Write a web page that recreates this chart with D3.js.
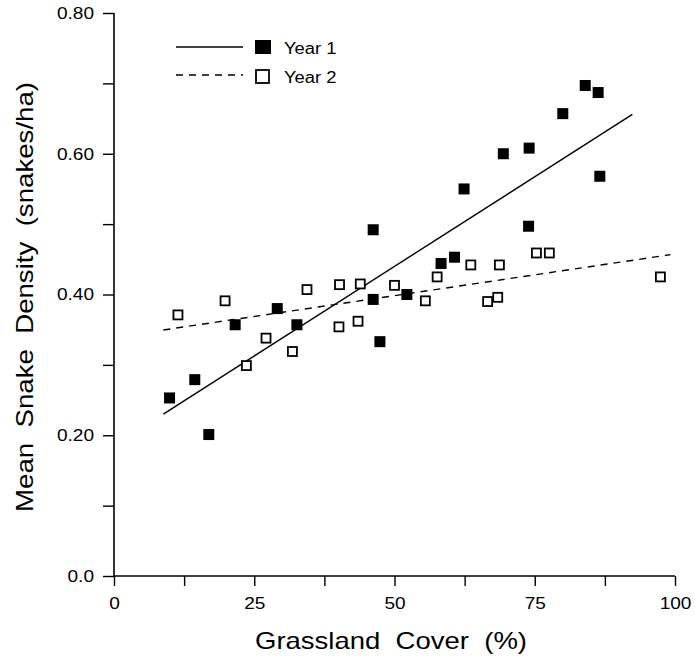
<!DOCTYPE html>
<html><head><meta charset="utf-8">
<script src="https://cdn.jsdelivr.net/npm/d3@7"></script>
<style>body{margin:0;background:#fff}svg text{font-family:"Liberation Sans",Arial,sans-serif;fill:#000}</style>
</head><body><svg id="c" width="695" height="656"></svg>
<script>
// Data
const year1X = [9.9,14.4,16.9,21.6,29.1,32.6,46.2,46.2,47.4,52.2,58.3,60.7,62.4,69.4,73.9,74.0,80.0,84.0,86.3,86.6];
const year1Y = [0.253,0.279,0.201,0.357,0.380,0.357,0.492,0.393,0.333,0.400,0.444,0.453,0.550,0.600,0.497,0.608,0.657,0.697,0.687,0.568];
const year2X = [11.4,19.8,23.6,27.1,31.8,34.4,40.1,40.2,43.5,43.9,50.0,55.5,57.6,63.6,66.6,68.4,68.7,75.3,77.6,97.4];
const year2Y = [0.371,0.391,0.299,0.338,0.319,0.407,0.354,0.414,0.362,0.415,0.413,0.391,0.425,0.442,0.390,0.396,0.442,0.459,0.459,0.425];
const fit1X = [8.8, 92.4], fit1Y = [0.230, 0.656];
const fit2X = [8.8, 99.2], fit2Y = [0.3496, 0.4566];
const xTicks = [0,12.5,25,37.5,50,62.5,75,87.5,100];
const xTickLabels = {0:"0",25:"25",50:"50",75:"75",100:"100"};
const yTicks = [0,0.1,0.2,0.3,0.4,0.5,0.6,0.7,0.8];
const yTickLabels = {0:"0.0",0.2:"0.20",0.4:"0.40",0.6:"0.60",0.8:"0.80"};
const seriesNames = ["Year 1","Year 2"];
const xTitle = "Grassland  Cover  (%)";
const yTitle = "Mean  Snake  Density  (snakes/ha)";

const svg = d3.select("#c");
const L=114, T=13, W=561, H=563;
const x = d3.scaleLinear().domain([0,100]).range([L,L+W]);
const y = d3.scaleLinear().domain([0,0.8]).range([T+H,T]);

function stretch(sel, f){
  sel.each(function(){const w=this.getComputedTextLength(); if(w>0){d3.select(this).attr("textLength",w*f).attr("lengthAdjust","spacingAndGlyphs");}});
}

const xAxis = d3.axisBottom(x).tickValues(xTicks).tickSize(10).tickPadding(11)
  .tickFormat(d=>xTickLabels[d]!==undefined?xTickLabels[d]:"");
const gx = svg.append("g").attr("transform",`translate(0,${T+H})`).call(xAxis);
const yAxis = d3.axisLeft(y).tickValues(yTicks).tickSize(11).tickPadding(9)
  .tickFormat(d=>{const k=Math.round(d*10)/10;return yTickLabels[k]!==undefined?yTickLabels[k]:"";});
const gy = svg.append("g").attr("transform",`translate(${L},0)`).call(yAxis);
[gx,gy].forEach(g=>{
  g.select(".domain").attr("stroke","#000").attr("stroke-width",1.6);
  g.selectAll(".tick line").attr("stroke","#000").attr("stroke-width",1.4);
  g.selectAll(".tick text").style("font-size","17px").attr("fill","#000");
  stretch(g.selectAll(".tick text"),1.12);
});
gx.select(".domain").attr("d",`M${L},0H${L+W}`);
gy.select(".domain").attr("d",`M0,${T}V${T+H}`);

const line = d3.line().x(d=>x(d[0])).y(d=>y(d[1]));
svg.append("path").datum(d3.zip(fit1X,fit1Y)).attr("d",line)
  .attr("fill","none").attr("stroke","#000").attr("stroke-width",1.4);
svg.append("path").datum(d3.zip(fit2X,fit2Y)).attr("d",line)
  .attr("fill","none").attr("stroke","#000").attr("stroke-width",1.4).attr("stroke-dasharray","7,6");

const s1=11, s2=9;
svg.append("g").selectAll("rect").data(d3.zip(year1X,year1Y)).join("rect")
  .attr("x",d=>x(d[0])-s1/2).attr("y",d=>y(d[1])-s1/2).attr("width",s1).attr("height",s1).attr("fill","#000");
svg.append("g").selectAll("rect").data(d3.zip(year2X,year2Y)).join("rect")
  .attr("x",d=>x(d[0])-s2/2).attr("y",d=>y(d[1])-s2/2).attr("width",s2).attr("height",s2)
  .attr("fill","#fff").attr("stroke","#000").attr("stroke-width",1.8);

// Legend
const leg = svg.append("g");
leg.append("line").attr("x1",176).attr("x2",243).attr("y1",47).attr("y2",47).attr("stroke","#000").attr("stroke-width",1.4);
leg.append("rect").attr("x",255).attr("y",40).attr("width",16).attr("height",14).attr("fill","#000");
leg.append("line").attr("x1",176).attr("x2",243).attr("y1",75).attr("y2",75).attr("stroke","#000").attr("stroke-width",1.4).attr("stroke-dasharray","7,6");
leg.append("rect").attr("x",256).attr("y",70).attr("width",13).attr("height",13).attr("fill","#fff").attr("stroke","#000").attr("stroke-width",1.8);
const lt = leg.selectAll("text.lg").data(seriesNames).join("text").attr("class","lg")
  .attr("x",284).attr("y",(d,i)=>54+i*29).style("font-size","16px").text(d=>d);
stretch(lt,1.15);

// Axis titles
svg.append("text").attr("x",391).attr("y",649).attr("text-anchor","middle").style("font-size","24px")
  .attr("xml:space","preserve").attr("textLength",272).attr("lengthAdjust","spacingAndGlyphs").text(xTitle);
svg.append("text").attr("transform","translate(33,297) rotate(-90)").attr("text-anchor","middle").style("font-size","24px")
  .attr("xml:space","preserve").attr("textLength",430).attr("lengthAdjust","spacingAndGlyphs").text(yTitle);
</script></body></html>
